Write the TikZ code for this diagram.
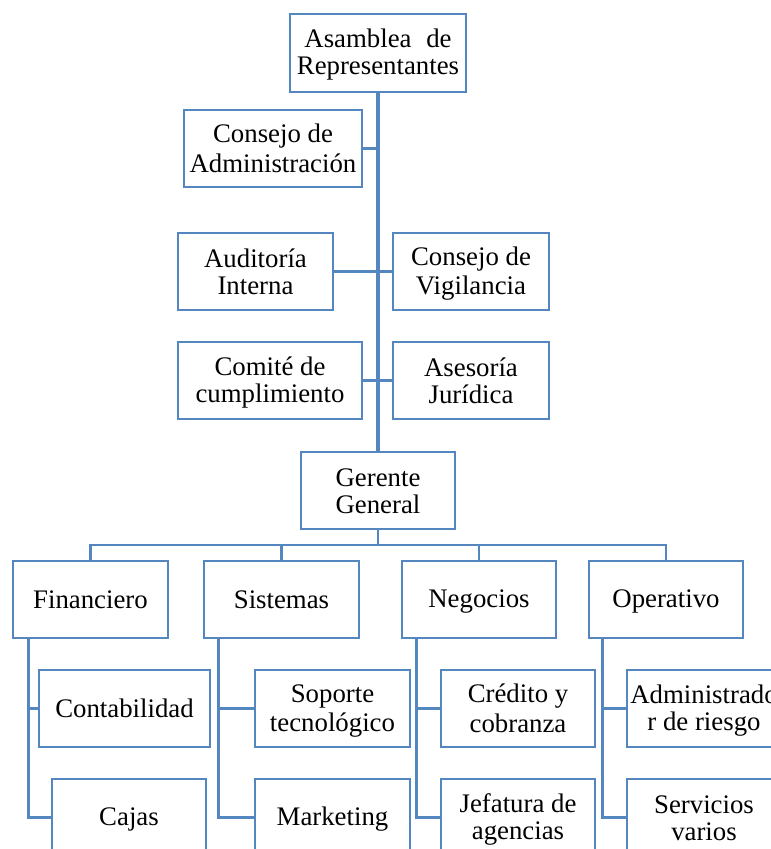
\documentclass[tikz,border=0pt]{standalone}
\usepackage{fontspec}
\setmainfont{Liberation Serif}
\usetikzlibrary{calc}
\definecolor{orgblue}{RGB}{84,134,192}
% fixed line strut so every line sits on the same grid
\newcommand{\lnstrut}{\rule[-4.4pt]{0pt}{27pt}}
\newcommand{\one}[1]{\lnstrut#1}
\newcommand{\two}[2]{\lnstrut#1\\\lnstrut#2}
\begin{document}
\begin{tikzpicture}[x=1pt,y=-1pt,
  box/.style={draw=orgblue, line width=2.6pt, fill=white, inner sep=0pt,
    minimum height=77pt, align=center,
    font=\fontsize{26.8}{27}\selectfont},
  link/.style={draw=orgblue, line width=2.6pt},
  spine/.style={draw=orgblue, line width=3.2pt}]
\useasboundingbox (0,0) rectangle (771,849);
\clip (0,0) rectangle (771,849);
\fill[white] (0,0) rectangle (771,849);

\coordinate (bus) at (378,545);

% board level
\node[box, minimum width=176pt, minimum height=78pt] (asm) at (378,53) {\two{Asamblea\hspace{0.55em}de}{Representantes}};
\node[box, minimum width=178pt] (cda) at (273,148.5) {\two{Consejo de}{Administración}};
\node[box, minimum width=155pt] (ai) at (255.5,271.5) {\two{Auditoría}{Interna}};
\node[box, minimum width=156pt] (cv) at (471,271.5) {\two{Consejo de}{Vigilancia}};
\node[box, minimum width=184pt] (cc) at (270,380.5) {\two{Comité de}{cumplimiento}};
\node[box, minimum width=156pt] (aj) at (471,380.5) {\two{Asesoría}{Jurídica}};
\node[box, minimum width=154pt] (gg) at (378,490.5) {\two{Gerente}{General}};

% departments
\node[box, minimum width=155pt] (fin) at (90.5,599.5) {\one{Financiero}};
\node[box, minimum width=155pt] (sis) at (281.5,599.5) {\one{Sistemas}};
\node[box, minimum width=154pt] (neg) at (479,599.5) {\one{Negocios}};
\node[box, minimum width=154pt] (ope) at (666,599.5) {\one{Operativo}};

% units
\node[box, minimum width=171pt] (cont) at (124.5,708.5) {\one{Contabilidad}};
\node[box, minimum width=154pt] (caj) at (129,817.5) {\one{Cajas}};
\node[box, minimum width=155pt] (sop) at (332.5,708.5) {\two{Soporte}{tecnológico}};
\node[box, minimum width=155pt] (mkt) at (332.5,817.5) {\one{Marketing}};
\node[box, minimum width=154pt] (cre) at (518,708.5) {\two{Crédito y}{cobranza}};
\node[box, minimum width=154pt] (jef) at (518,817.5) {\two{Jefatura de}{agencias}};
\node[box, minimum width=154pt] (adm) at (704,708.5) {\two{Administrado}{r de riesgo}};
\node[box, minimum width=154pt] (ser) at (704,817.5) {\two{Servicios}{varios}};

% main spine and side offices
\draw[spine] (asm.south) -- (gg.north);
\draw[link] (cda.east) -- (cda.east -| asm.south);
\draw[link] (ai.east) -- (cv.west);
\draw[link] (cc.east) -- (aj.west);

% bus to departments
\draw[link] (gg.south) -- (bus);
\draw[link] (fin.north) |- (bus) -| (ope.north);
\draw[link] (sis.north) -- (sis.north |- bus);
\draw[link] (neg.north) -- (neg.north |- bus);

% department branches
\coordinate (fa) at ($(fin.south west)+(17,0)$);
\coordinate (sa) at ($(sis.south west)+(16,0)$);
\coordinate (na) at ($(neg.south west)+(16,0)$);
\coordinate (oa) at ($(ope.south west)+(15,0)$);
\draw[link] (fa) |- (cont.west);
\draw[link] (fa) |- (caj.west);
\draw[link] (sa) |- (sop.west);
\draw[link] (sa) |- (mkt.west);
\draw[link] (na) |- (cre.west);
\draw[link] (na) |- (jef.west);
\draw[link] (oa) |- (adm.west);
\draw[link] (oa) |- (ser.west);
\end{tikzpicture}
\end{document}
